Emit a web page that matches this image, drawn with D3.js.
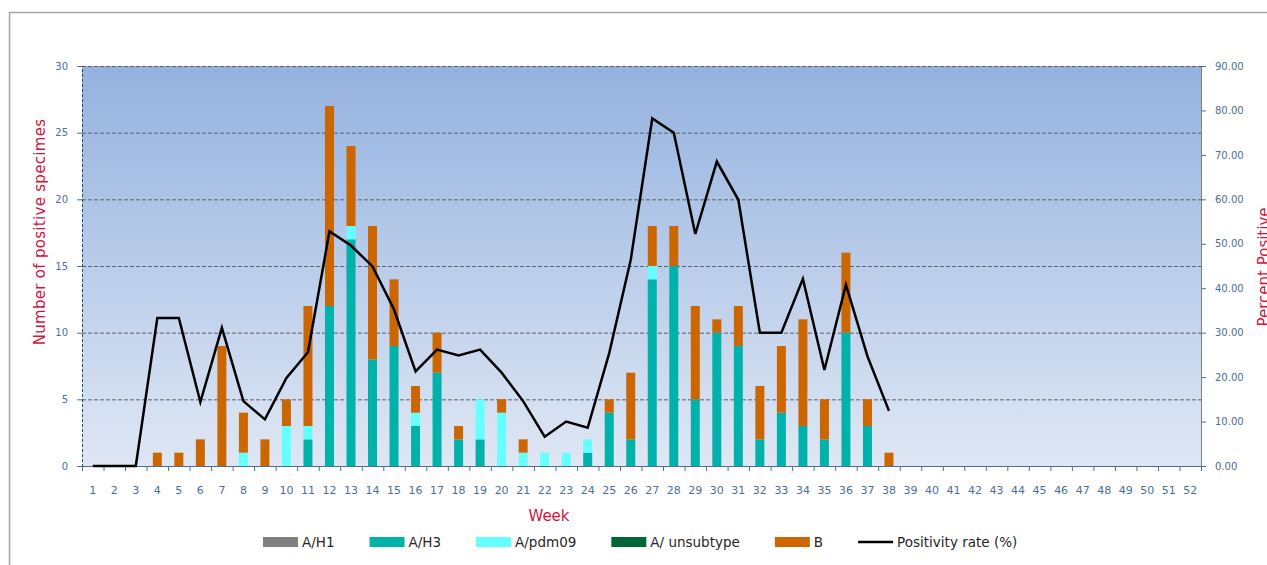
<!DOCTYPE html>
<html>
<head>
<meta charset="utf-8">
<script src="https://cdn.jsdelivr.net/npm/d3@7"></script>
<style>
  body { margin: 0; background: #fff; }
  svg { display: block; font-family: "DejaVu Sans", sans-serif; }
</style>
</head>
<body>
<script>
// Weeks shown on the x axis
var weeks = [1,2,3,4,5,6,7,8,9,10,11,12,13,14,15,16,17,18,19,20,21,22,23,24,25,26,
             27,28,29,30,31,32,33,34,35,36,37,38,39,40,41,42,43,44,45,46,47,48,49,50,51,52];

// Positive specimens by type, weeks 1-38
var aH1        = [0,0,0,0,0,0,0,0,0,0,0,0,0,0,0,0,0,0,0,0,0,0,0,0,0,0,0,0,0,0,0,0,0,0,0,0,0,0];
var aH3        = [0,0,0,0,0,0,0,0,0,0,2,12,17,8,9,3,7,2,2,0,0,0,0,1,4,2,14,15,5,10,9,2,4,3,2,10,3,0];
var aPdm09     = [0,0,0,0,0,0,0,1,0,3,1,0,1,0,0,1,0,0,3,4,1,1,1,1,0,0,1,0,0,0,0,0,0,0,0,0,0,0];
var aUnsubtype = [0,0,0,0,0,0,0,0,0,0,0,0,0,0,0,0,0,0,0,0,0,0,0,0,0,0,0,0,0,0,0,0,0,0,0,0,0,0];
var fluB       = [0,0,0,1,1,2,9,3,2,2,9,15,6,10,5,2,3,1,0,1,1,0,0,0,1,5,3,3,7,1,3,4,5,8,3,6,2,1];

// Positivity rate (%), weeks 1-38
var positivity = [0,0,0,33.3,33.3,14.4,31.1,14.6,10.5,19.8,25.6,52.8,49.6,44.9,35.2,21.3,26.2,24.9,26.2,21.0,
                  14.6,6.6,10.0,8.6,25.4,46.4,78.2,75.0,52.2,68.5,59.9,30.0,30.0,42.1,21.6,40.8,24.7,12.4];

var leftTicks  = [0,5,10,15,20,25,30];
var rightTicks = [0,10,20,30,40,50,60,70,80,90];

var seriesNames  = ["A/H1", "A/H3", "A/pdm09", "A/ unsubtype", "B"];
var seriesColors = ["#808080", "#00B2AA", "#66FFFF", "#006633", "#CC6600"];

var width = 1267, height = 565;
var plot = { left: 82, right: 1201, top: 66, bottom: 466 };

var svg = d3.select("body").append("svg")
    .attr("width", width)
    .attr("height", height);

// outer frame (runs off the picture to the right and bottom)
svg.append("rect")
   .attr("x", 9.5).attr("y", 12.5)
   .attr("width", 1300).attr("height", 600)
   .attr("fill", "#fff")
   .attr("stroke", "#A6A6A6")
   .attr("stroke-width", 1.5);

// plot background gradient
var grad = svg.append("defs").append("linearGradient")
    .attr("id", "bg").attr("x1", 0).attr("y1", 0).attr("x2", 0).attr("y2", 1);
grad.append("stop").attr("offset", "0%").attr("stop-color", "#94B2DF");
grad.append("stop").attr("offset", "100%").attr("stop-color", "#DFE7F4");

svg.append("rect")
   .attr("x", plot.left).attr("y", plot.top)
   .attr("width", plot.right - plot.left)
   .attr("height", plot.bottom - plot.top)
   .attr("fill", "url(#bg)");

// scales
var x = d3.scaleBand().domain(weeks).range([plot.left, plot.right]);
var xEdge = d3.scaleLinear().domain([0, weeks.length]).range([plot.left, plot.right]);
var y = d3.scaleLinear().domain([0, 30]).range([plot.bottom, plot.top]);
var y2 = d3.scaleLinear().domain([0, 90]).range([plot.bottom, plot.top]);

// dashed gridlines
svg.append("g")
   .selectAll("line")
   .data(leftTicks.slice(1))
   .enter().append("line")
   .attr("x1", plot.left).attr("x2", plot.right)
   .attr("y1", function(d) { return y(d) + 0.5; })
   .attr("y2", function(d) { return y(d) + 0.5; })
   .attr("stroke", "#5A5F6A")
   .attr("stroke-width", 1)
   .attr("stroke-dasharray", "4,2");

// stacked bars
var rows = aH3.map(function(v, i) {
  return { week: weeks[i], "A/H1": aH1[i], "A/H3": aH3[i], "A/pdm09": aPdm09[i],
           "A/ unsubtype": aUnsubtype[i], "B": fluB[i] };
});
var stacked = d3.stack().keys(seriesNames)(rows);
var barW = 9;

svg.append("g")
   .selectAll("g")
   .data(stacked)
   .enter().append("g")
   .attr("fill", function(d, i) { return seriesColors[i]; })
   .selectAll("rect")
   .data(function(d) { return d; })
   .enter().append("rect")
   .attr("x", function(d) { return x(d.data.week) + (x.bandwidth() - barW) / 2; })
   .attr("y", function(d) { return y(d[1]); })
   .attr("width", barW)
   .attr("height", function(d) { return y(d[0]) - y(d[1]); });

// axes
var tickColor = "#4D6E99";

var leftAxis = svg.append("g")
   .attr("transform", "translate(" + plot.left + ",0)")
   .call(d3.axisLeft(y).tickValues(leftTicks).tickSize(5).tickPadding(9));
leftAxis.select(".domain").attr("stroke", "#1F4E79").attr("stroke-dasharray", "3,2");

var rightAxis = svg.append("g")
   .attr("transform", "translate(" + plot.right + ",0)")
   .call(d3.axisRight(y2).tickValues(rightTicks).tickFormat(d3.format(".2f")).tickSize(5).tickPadding(9));
rightAxis.select(".domain").attr("stroke", "#808080");

var bottomTicks = svg.append("g")
   .attr("transform", "translate(0," + plot.bottom + ")")
   .call(d3.axisBottom(xEdge).tickValues(d3.range(0, weeks.length + 1)).tickFormat("").tickSize(5));
bottomTicks.select(".domain").attr("stroke", "#4D6E99");

var bottomLabels = svg.append("g")
   .attr("transform", "translate(0," + plot.bottom + ")")
   .call(d3.axisBottom(x).tickSize(0).tickPadding(20));
bottomLabels.select(".domain").remove();

[leftAxis, rightAxis, bottomTicks].forEach(function(a) {
  a.selectAll(".tick line").attr("stroke", "#4D6E99");
});
[leftAxis, rightAxis].forEach(function(a) {
  a.selectAll(".tick text").attr("fill", tickColor)
   .attr("font-size", "10px").attr("font-family", "DejaVu Sans");
});
bottomLabels.selectAll(".tick text").attr("fill", tickColor)
   .attr("font-size", "11px").attr("font-family", "DejaVu Sans");

// positivity line
var line = d3.line()
   .x(function(d, i) { return x(weeks[i]) + x.bandwidth() / 2; })
   .y(function(d) { return y2(d); });

svg.append("path")
   .datum(positivity)
   .attr("d", line)
   .attr("fill", "none")
   .attr("stroke", "#000")
   .attr("stroke-width", 2.5)
   .attr("stroke-linejoin", "miter");

// axis titles
var titleColor = "#D4123C";
svg.append("text")
   .attr("transform", "translate(45,232) rotate(-90)")
   .attr("text-anchor", "middle")
   .attr("fill", titleColor)
   .attr("font-size", "15px")
   .attr("letter-spacing", "0.3px")
   .text("Number of positive specimes");

// cut off at the right edge, as in the original
svg.append("text")
   .attr("transform", "translate(1269,267) rotate(-90)")
   .attr("text-anchor", "middle")
   .attr("fill", titleColor)
   .attr("font-size", "15px")
   .text("Percent Positive");

svg.append("text")
   .attr("x", 549).attr("y", 521)
   .attr("text-anchor", "middle")
   .attr("fill", titleColor)
   .attr("font-size", "15px")
   .text("Week");

// legend: swatch + label, equal gaps between entries
var legendY = 542;
var swatchW = 35, gap = 35, cursor = 263;
var legend = svg.append("g").attr("font-size", "13.5px").attr("fill", "#262626");

function addLabel(text) {
  var t = legend.append("text")
     .attr("x", cursor + 4).attr("y", legendY + 5)
     .text(text);
  cursor += 4 + t.node().getComputedTextLength() + gap;
}

seriesNames.forEach(function(name, i) {
  legend.append("rect")
     .attr("x", cursor).attr("y", legendY - 5)
     .attr("width", swatchW).attr("height", 10)
     .attr("fill", seriesColors[i]);
  cursor += swatchW;
  addLabel(name);
});
legend.append("line")
   .attr("x1", cursor).attr("x2", cursor + swatchW)
   .attr("y1", legendY).attr("y2", legendY)
   .attr("stroke", "#000").attr("stroke-width", 2.5);
cursor += swatchW;
addLabel("Positivity rate (%)");
</script>
</body>
</html>
